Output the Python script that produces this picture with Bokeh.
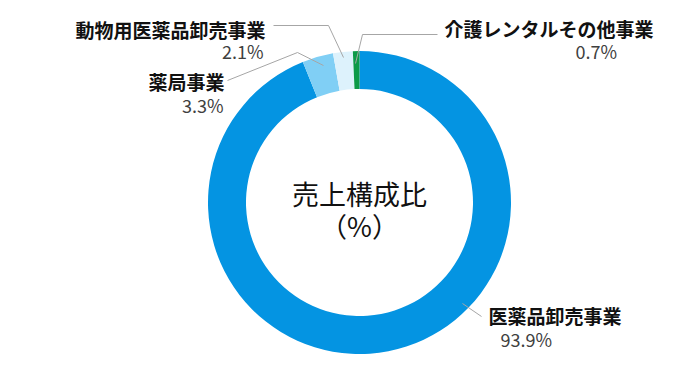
import math
from bokeh.plotting import figure
from bokeh.models import Range1d, ColumnDataSource
from bokeh.core.properties import value
from bokeh.embed import file_html
from bokeh.resources import INLINE

# ---- data ----
categories = ["医薬品卸売事業", "薬局事業", "動物用医薬品卸売事業", "介護レンタルその他事業"]
shares = [93.9, 3.3, 2.1, 0.7]
pct_labels = ["93.9%", "3.3%", "2.1%", "0.7%"]
colors = ["#0494E2", "#80CFF5", "#DDF2FC", "#0C9A48"]
center_title = ["売上構成比", "（%）"]

W, H = 677, 374
FONT = "Noto Sans CJK JP"

p = figure(width=W, height=H, output_backend="svg", toolbar_location=None,
           x_range=Range1d(0, W), y_range=Range1d(390 - H, 390),
           min_border=0)
p.axis.visible = False
p.grid.visible = False
p.outline_line_color = None
p.background_fill_color = "white"
p.border_fill_color = "white"

def sy(y):
    return 390 - y

# donut geometry (screen px)
cx, cy = 359, 202
r_out, r_in = 151.5, 113.5

total = sum(shares)
starts, ends = [], []
acc = 0.0
for s in shares:
    a0 = math.pi / 2 - 2 * math.pi * acc / total
    acc += s
    a1 = math.pi / 2 - 2 * math.pi * acc / total
    starts.append(a0)
    ends.append(a1)

src = ColumnDataSource(dict(cat=categories, share=shares, start=starts, end=ends, color=colors))
p.annular_wedge(x=cx, y=sy(cy), inner_radius=r_in, outer_radius=r_out,
                start_angle="start", end_angle="end", direction="clock",
                fill_color="color", line_color=None, source=src)

# leader lines (screen px)
leaders = [
    ([462, 481], [303, 316]),
    ([227, 297, 323], [80, 52, 65]),
    ([273, 328, 343], [25, 25, 57]),
    ([437, 362, 355], [34, 34, 63]),
]
for xs, ys in leaders:
    p.line(xs, [sy(v) for v in ys], line_color="#A6A6A6", line_width=1)

# category labels
cat_pos = [(488, 315, "left"), (224, 81, "right"), (265, 29, "right"), (444, 28, "left")]
pct_pos = [(500, 338, "left"), (223, 104, "right"), (263, 50, "right"), (575, 50, "left")]
for i in range(len(categories)):
    x, y, al = cat_pos[i]
    p.text(x=[x], y=[sy(y)], text=[categories[i]], text_font=value(FONT),
           text_font_size="19px", text_color="#111111", text_align=al,
           text_baseline="middle", text_font_style="bold")
    x, y, al = pct_pos[i]
    p.text(x=[x], y=[sy(y)], text=[pct_labels[i]], text_font=value(FONT),
           text_font_size="18px", text_color="#404040", text_align=al,
           text_baseline="middle")

# center title
p.text(x=[cx], y=[sy(193)], text=[center_title[0]], text_font=value(FONT),
       text_font_size="27px", text_color="#111111", text_align="center", text_baseline="middle")
p.text(x=[cx], y=[sy(225)], text=[center_title[1]], text_font=value(FONT),
       text_font_size="27px", text_color="#111111", text_align="center", text_baseline="middle")

open("out.html", "w").write(file_html(p, INLINE))
